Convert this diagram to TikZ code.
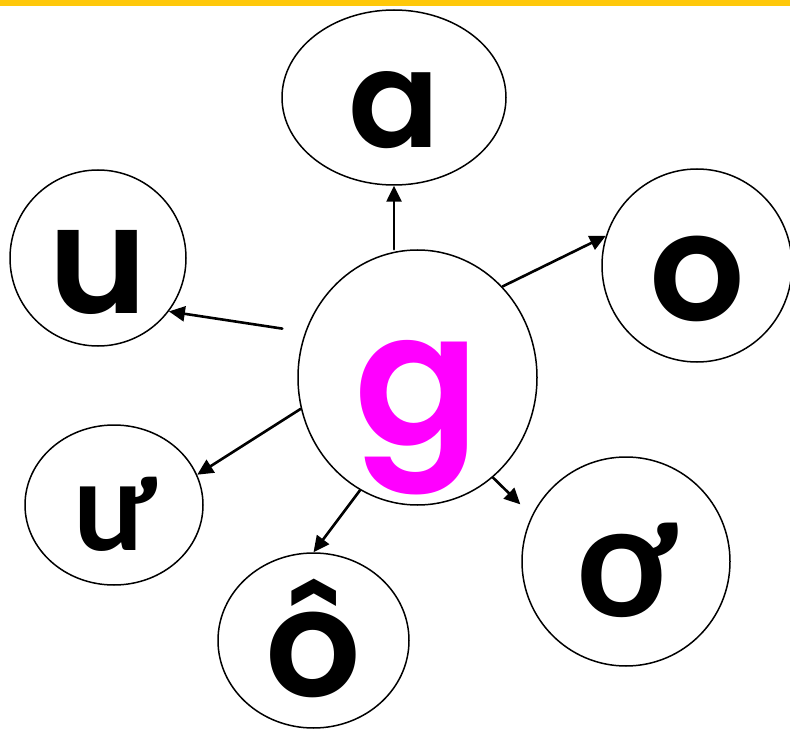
\documentclass[tikz,border=0pt]{standalone}
\usepackage{fontspec}
\usetikzlibrary{shapes.geometric,arrows.meta}
\newfontfamily\popfont{Poppins SemiBold}
\newfontfamily\latofont{Lato}
\definecolor{barcol}{RGB}{255,200,10}
\definecolor{gcol}{RGB}{255,0,255}
\begin{document}
\begin{tikzpicture}[line cap=round,line join=round,>={Triangle[length=16pt,width=15pt]},x=1pt,y=-1pt,
	bubble/.style={draw,ellipse,line width=1.5pt,inner sep=0pt,text depth=0pt},
	arr/.style={->,line width=2.6pt}]
		\useasboundingbox (0,0) rectangle (790,730);
		\fill[barcol] (0,0) rectangle (790,6);
		
		\node[bubble,minimum width=224pt,minimum height=175pt,text height=100pt] (a) at (394,97.5) {\popfont\fontsize{135}{135}\selectfont a};
		\node[bubble,minimum width=176pt,minimum height=176pt,text height=110pt] (u) at (98,258) {\popfont\fontsize{150}{150}\selectfont u};
		\node[bubble,minimum width=190pt,minimum height=193pt,text height=110pt] (o) at (697,265.5) {\popfont\fontsize{150}{150}\selectfont o};
		\node[bubble,minimum width=239pt,minimum height=255pt,text height=134pt,text=gcol] (g) at (417.5,377.5) {\popfont\fontsize{185}{185}\selectfont g};
		\node[bubble,minimum width=178pt,minimum height=160pt,text height=90pt] (uw) at (114,505) {\latofont\bfseries\fontsize{124}{124}\selectfont ư};
		\node[bubble,minimum width=191pt,minimum height=175pt,text height=112pt] (oo) at (313.5,640.5) {\popfont\fontsize{150}{150}\selectfont ô};
		\node[bubble,minimum width=208pt,minimum height=209pt,text height=110pt] (ow) at (626,561.5) {\latofont\bfseries\fontsize{158}{158}\selectfont ơ};
		
		\draw[arr] (g.north -| a.south) -- (a.south);
		\draw[arr] (g.47) -- (o.162);
		\draw[arr,shorten <=23pt] (g.158) -- (u.-37);
		\draw[arr] (g.195) -- (uw.20);
		\draw[arr] (g.243) -- (oo.north);
		\draw[arr,shorten >=16pt] (g.-53) -- (ow.154);
	\end{tikzpicture}
\end{document}
